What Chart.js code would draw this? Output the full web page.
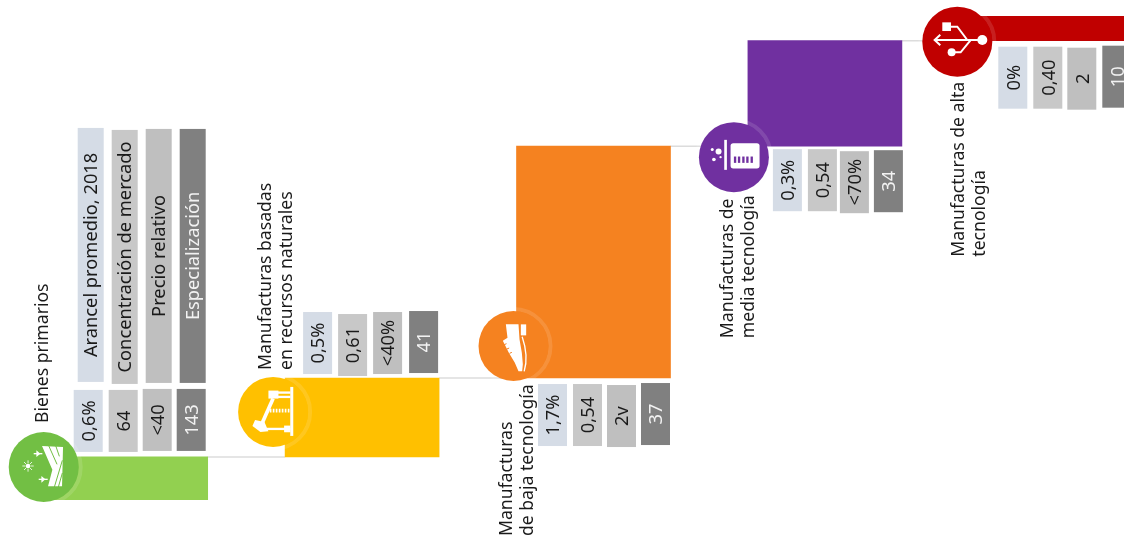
<!DOCTYPE html>
<html lang="es">
<head>
<meta charset="utf-8">
<title>Manufacturas por tecnología</title>
<style>
    html, body { margin: 0; padding: 0; background: #fff; overflow: hidden; width: 1124px; height: 537px; }
    canvas { display: block; }
</style>
<script src="https://cdn.jsdelivr.net/npm/chart.js@4/dist/chart.umd.min.js"></script>
</head>
<body>
<canvas id="grafico" width="1190" height="537"></canvas>
<script>
// Datos
const categorias = ['Bienes primarios', 'Manufacturas basadas en recursos naturales', 'Manufacturas de baja tecnología', 'Manufacturas de media tecnología', 'Manufacturas de alta tecnología'];
const participacion = [8.9, 16.3, 47.9, 21.8, 5.1];
const encabezados = ['Arancel promedio, 2018', 'Concentración de mercado', 'Precio relativo', 'Especialización'];
const arancel = ['0,6%', '0,5%', '1,7%', '0,3%', '0%'];
const concentracion = ['64', '0,61', '0,54', '0,54', '0,40'];
const precio = ['<40', '<40%', '2v', '<70%', '2'];
const especializacion = ['143', '41', '37', '34', '10'];
const etiquetas = [['Bienes primarios'], ['Manufacturas basadas', 'en recursos naturales'], ['Manufacturas', 'de baja tecnología'], ['Manufacturas de', 'media tecnología'], ['Manufacturas de alta', 'tecnología']];

// Colores
const coloresBarra = ['#92d050', '#ffc000', '#f58220', '#7030a0', '#c00000'];
const coloresCirculo = ['#72bf44', '#ffc000', '#f58220', '#7030a0', '#c00000'];
const coloresCelda = ['#d5dce6', '#c8c8c8', '#bfbfbf', '#808080'];
const coloresTexto = ['#1a1a1a', '#1a1a1a', '#1a1a1a', '#f2f2f2'];

// Ajustes de posición respecto de cada barra
const celdaX = [[-134, -99, -65, -31], [-136, -101, -66, -30], [-132.5, -97.5, -63.5, -29.5], [-129, -94, -62, -28], [-135, -100, -66, -31]];
const celdaY = [[-67, -67, -68, -68], [-66, -64, -66, -67], [6, 6, 7, 5], [3, 3, 5, 4], [6, 6, 7, 5]];
const encabezadoX = [-130, -96, -62, -28];
const encabezadoY = [-329, -327, -328, -328];
const circuloX = [-10, -12, -3, -14, -22];
const circuloY = [-33, -45, -32, 11, 1];
const etiquetaX = [-11, -19, -10, -20, -20];
const etiquetaY = [-77, -87, 158, 192, 216];

// Acumulado para la cascada
let acumulado = 0;
const tramos = participacion.map(v => {
    const tramo = [acumulado, acumulado + v];
    acumulado += v;
    return tramo;
});

function textoVertical(ctx, texto, x, y, alineacion, fuente, color) {
    ctx.save();
    ctx.translate(x, y);
    ctx.rotate(-Math.PI / 2);
    ctx.font = fuente;
    ctx.fillStyle = color;
    ctx.textAlign = alineacion;
    ctx.textBaseline = 'middle';
    ctx.fillText(texto, 0, 0);
    ctx.restore();
}

function poligono(ctx, puntos) {
    ctx.beginPath();
    puntos.forEach((p, i) => i ? ctx.lineTo(p[0], p[1]) : ctx.moveTo(p[0], p[1]));
    ctx.closePath();
    ctx.fill();
}

function linea(ctx, puntos, ancho) {
    ctx.lineWidth = ancho;
    ctx.beginPath();
    puntos.forEach((p, i) => i ? ctx.lineTo(p[0], p[1]) : ctx.moveTo(p[0], p[1]));
    ctx.stroke();
}

function punto(ctx, x, y, r) {
    ctx.beginPath();
    ctx.arc(x, y, r, 0, Math.PI * 2);
    ctx.fill();
}

// Iconos: coordenadas en una caja de 240x240 centrada en el círculo
const iconos = [
    function planta(ctx, fondo) {
        poligono(ctx, [[115, 57], [178, 60], [175, 178], [133, 178], [146, 128]]);
        ctx.strokeStyle = fondo;
        linea(ctx, [[135, 56], [160, 112]], 3);
        linea(ctx, [[156, 56], [167, 88]], 3);
        linea(ctx, [[176, 100], [152, 180]], 3);
        linea(ctx, [[176, 138], [164, 180]], 3);
        ctx.strokeStyle = '#fff';
        linea(ctx, [[90, 80], [116, 80]], 4);
        poligono(ctx, [[98, 70], [110, 80], [98, 90]]);
        linea(ctx, [[105, 157], [132, 157]], 4);
        poligono(ctx, [[113, 147], [125, 157], [113, 167]]);
        punto(ctx, 73, 117, 7);
        for (let a = 0; a < 8; a++) {
            const c = Math.cos(a * Math.PI / 4), s = Math.sin(a * Math.PI / 4);
            linea(ctx, [[73 + c * 8, 117 + s * 8], [73 + c * 17, 117 + s * 17]], 2.5);
        }
    },
    function bomba(ctx) {
        ctx.strokeStyle = '#fff';
        linea(ctx, [[176, 45], [176, 192]], 9);
        ctx.fillRect(106, 56, 30, 24);
        linea(ctx, [[130, 62], [172, 62]], 7);
        linea(ctx, [[130, 75], [172, 75]], 7);
        linea(ctx, [[120, 80], [88, 152]], 11);
        ctx.setLineDash([5, 4]);
        linea(ctx, [[110, 116], [172, 116]], 11);
        ctx.setLineDash([]);
        poligono(ctx, [[66, 144], [94, 150], [106, 178], [82, 180], [58, 162]]);
        linea(ctx, [[100, 171], [172, 171]], 7);
        ctx.fillRect(153, 161, 19, 20);
    },
    function zapato(ctx, fondo) {
        poligono(ctx, [[97, 55], [135, 55], [138, 100], [145, 140], [148, 175], [146, 196], [135, 196], [124, 170], [106, 140], [88, 104], [102, 95]]);
        ctx.fillRect(142, 55, 16, 33);
        ctx.strokeStyle = fondo;
        linea(ctx, [[92, 116], [99, 113]], 3);
        linea(ctx, [[100, 129], [107, 126]], 3);
        linea(ctx, [[108, 142], [115, 139]], 3);
        ctx.strokeStyle = '#fff';
        ctx.lineWidth = 4;
        ctx.beginPath();
        ctx.moveTo(146, 92);
        ctx.quadraticCurveTo(166, 150, 152, 196);
        ctx.stroke();
    },
    function vaso(ctx, fondo) {
        ctx.strokeStyle = '#fff';
        linea(ctx, [[95, 68], [95, 158]], 8);
        ctx.beginPath();
        ctx.roundRect(110, 78, 87, 76, 8);
        ctx.fill();
        ctx.fillStyle = fondo;
        [120, 132, 145, 157, 170].forEach(x => ctx.fillRect(x, 118, 7, 19));
        ctx.fillStyle = '#fff';
        punto(ctx, 55, 97, 4.5);
        punto(ctx, 74, 103, 9);
        punto(ctx, 60, 127, 5.5);
        punto(ctx, 80, 120, 3.5);
    },
    function usb(ctx) {
        ctx.strokeStyle = '#fff';
        linea(ctx, [[52, 115], [195, 115]], 6);
        linea(ctx, [[69, 99], [52, 115], [69, 131]], 6);
        punto(ctx, 195, 115, 15);
        ctx.fillRect(75, 62, 26, 26);
        linea(ctx, [[100, 75], [120, 75], [150, 115]], 6);
        punto(ctx, 103, 152, 12);
        linea(ctx, [[103, 152], [130, 152], [160, 115]], 6);
    }
];

// Plugin que dibuja conectores, tablas, iconos y textos
const decoracion = {
    id: 'decoracion',
    beforeDatasetsDraw(chart) {
        const ctx = chart.ctx;
        const meta = chart.getDatasetMeta(0);
        const y = chart.scales.y;
        ctx.save();
        ctx.strokeStyle = '#dcdcdc';
        ctx.lineWidth = 1.5;
        tramos.slice(0, -1).forEach((tramo, i) => {
            const py = y.getPixelForValue(tramo[1]);
            ctx.beginPath();
            ctx.moveTo(meta.data[i].x + meta.data[i].width / 2, py);
            ctx.lineTo(meta.data[i + 1].x - meta.data[i + 1].width / 2, py);
            ctx.stroke();
        });
        ctx.restore();
    },
    afterDatasetsDraw(chart) {
        const ctx = chart.ctx;
        const meta = chart.getDatasetMeta(0);
        const y = chart.scales.y;
        const columnas = [arancel, concentracion, precio, especializacion];
        const fuenteCelda = '18.3px "Noto Sans"';

        tramos.forEach((tramo, i) => {
            const barra = meta.data[i];
            const izquierda = barra.x - barra.width / 2;
            const derecha = barra.x + barra.width / 2;
            const abajo = y.getPixelForValue(tramo[0]);
            const arriba = y.getPixelForValue(tramo[1]);

            // Celdas de valores
            const anclaY = i < 2 ? arriba : abajo;
            columnas.forEach((columna, c) => {
                const cx = derecha + celdaX[i][c];
                const cy = anclaY + celdaY[i][c];
                ctx.fillStyle = coloresCelda[c];
                ctx.fillRect(cx, cy, 29, 62);
                textoVertical(ctx, columna[i], cx + 16, cy + 31, 'center', fuenteCelda, coloresTexto[c]);
            });

            // Círculo con icono
            const px = izquierda + circuloX[i];
            const py = abajo + circuloY[i];
            ctx.save();
            ctx.beginPath();
            ctx.arc(px, py, 37, 0, Math.PI * 2);
            ctx.strokeStyle = 'rgba(255,255,255,0.12)';
            ctx.lineWidth = 4;
            ctx.stroke();
            ctx.fillStyle = coloresCirculo[i];
            ctx.beginPath();
            ctx.arc(px, py, 35, 0, Math.PI * 2);
            ctx.fill();
            ctx.translate(px - 40, py - 40);
            ctx.scale(1 / 3, 1 / 3);
            ctx.fillStyle = '#fff';
            iconos[i](ctx, coloresCirculo[i]);
            ctx.restore();

            // Etiqueta de la categoría
            etiquetas[i].forEach((texto, l) => {
                textoVertical(ctx, texto, izquierda + etiquetaX[i] + l * 21, abajo + etiquetaY[i], 'left', '17.6px "Noto Sans"', '#1a1a1a');
            });
        });

        // Encabezados de la tabla, solo sobre la primera barra
        const derecha0 = meta.data[0].x + meta.data[0].width / 2;
        const arriba0 = y.getPixelForValue(tramos[0][1]);
        encabezados.forEach((texto, c) => {
            const cx = derecha0 + encabezadoX[c];
            const cy = arriba0 + encabezadoY[c];
            ctx.fillStyle = coloresCelda[c];
            ctx.fillRect(cx, cy, 26, 254);
            textoVertical(ctx, texto, cx + 14.5, cy + 127, 'center', fuenteCelda, coloresTexto[c]);
        });
    }
};

new Chart(document.getElementById('grafico').getContext('2d'), {
    type: 'bar',
    data: {
        labels: categorias,
        datasets: [{
            label: 'Participación',
            data: tramos,
            backgroundColor: coloresBarra,
            barThickness: 154,
            borderSkipped: false,
            borderWidth: 0
        }]
    },
    options: {
        responsive: false,
        animation: false,
        layout: { padding: { left: 15, right: 18, top: 16, bottom: 37 } },
        plugins: { legend: { display: false }, tooltip: { enabled: false } },
        scales: {
            x: { display: false },
            y: { display: false, min: 0, max: 100 }
        }
    },
    plugins: [decoracion]
});
</script>
</body>
</html>
